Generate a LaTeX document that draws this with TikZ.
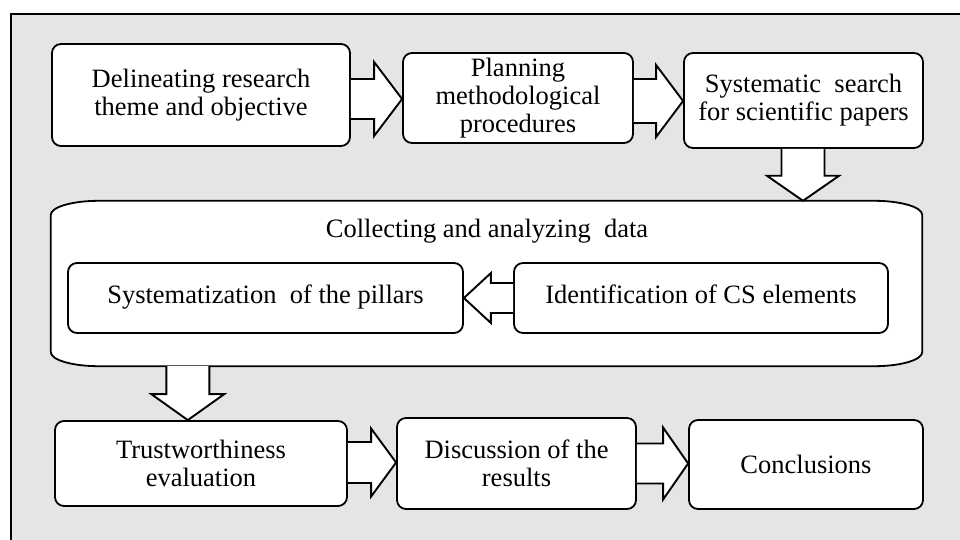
\documentclass[tikz,border=0pt]{standalone}
\usepackage{fontspec}
\setmainfont{Liberation Serif}
\usetikzlibrary{calc}
\tikzset{
  box/.style={draw=black, fill=white, line width=1.8pt, rounded corners=9pt, align=center, inner sep=0pt,
    font=\fontsize{26.5}{28}\selectfont},
  oneline/.style={text height=17pt, text depth=7pt},
  plain/.style={align=center, inner sep=0pt, font=\fontsize{26.5}{28}\selectfont},
  arrowline/.style={draw=black, fill=white, line width=1.9pt, line join=miter},
  bigline/.style={draw=black, fill=white, line width=1.8pt},
}
\newcommand\barrow[5]{%
  \path ($(#2)!#5!(#1)$) coordinate (bb);
  \draw[arrowline] ($(#1)!#3!90:(#2)$) -- ($(bb)!#3!-90:(#1)$) -- ($(bb)!#4!-90:(#1)$) -- (#2)
     -- ($(bb)!#4!90:(#1)$) -- ($(bb)!#3!90:(#1)$) -- ($(#1)!#3!-90:(#2)$);}
\begin{document}
\begin{tikzpicture}[x=1pt,y=-1pt]
\useasboundingbox (0,0) rectangle (960,540);
\fill[white] (0,0) rectangle (960,540);
\fill[gray!20] (11,14) rectangle (960,540);
\draw[line width=1.5pt] (11,540) -- (11,14) -- (960,14);

% top row
\node[box, minimum width=298pt, minimum height=102pt] (b1) at (201,95) {Delineating research\\theme and objective};
\node[box, minimum width=230pt, minimum height=90pt] (b2) at (518,98) {Planning\\methodological\\procedures};
\node[box, minimum width=239pt, minimum height=95pt] (b3) at (803.5,100.5) {Systematic\ \ search\\for scientific papers};

% big container
\node[minimum width=871pt, minimum height=165pt, inner sep=0pt] (big) at (486.5,283.5) {};
\draw[bigline] ([xshift=48pt]big.north west) -- ([xshift=-48pt]big.north east)
  arc[start angle=90, end angle=0, x radius=48pt, y radius=14pt]
  -- ([yshift=14pt]big.south east)
  arc[start angle=0, end angle=-90, x radius=48pt, y radius=14pt]
  -- ([xshift=48pt]big.south west)
  arc[start angle=-90, end angle=-180, x radius=48pt, y radius=14pt]
  -- ([yshift=-14pt]big.north west)
  arc[start angle=180, end angle=90, x radius=48pt, y radius=14pt] -- cycle;
\node[plain, anchor=base] (coll) at (487,237) {Collecting and analyzing\ \ data};

\node[box, oneline, minimum width=395pt, minimum height=70pt] (il) at (265.5,298) {Systematization\ \ of the pillars};
\node[box, oneline, minimum width=374pt, minimum height=70pt] (ir) at (701,298) {Identification of CS elements};

% bottom row
\node[box, minimum width=292pt, minimum height=85pt] (t1) at (201,463.5) {Trustworthiness\\evaluation};
\node[box, minimum width=239pt, minimum height=91pt] (t2) at (516.5,463.5) {Discussion of the\\results};
\node[box, text height=24pt, text depth=7pt, minimum width=234pt, minimum height=89pt] (t3) at (806,464.5) {Conclusions};

% block arrows
\path (b1.east) ++(0,4) coordinate (a1s);
\barrow{a1s}{a1s -| b2.west}{20pt}{37pt}{28pt}
\path (b2.east) ++(0,3) coordinate (a2s);
\barrow{a2s}{a2s -| b3.west}{22pt}{36pt}{27pt}
\path (b3.south) ++(-0.5,0) coordinate (a3s);
\barrow{a3s}{a3s |- big.north}{21.5pt}{36pt}{25pt}
\barrow{ir.west}{ir.west -| il.east}{15pt}{25pt}{27pt}
\path ([xshift=137pt]big.south west) coordinate (a4s);
\barrow{a4s}{a4s |- t1.north}{21.5pt}{36.5pt}{26pt}
\path (t1.east) ++(0,-1) coordinate (a5s);
\barrow{a5s}{a5s -| t2.west}{20.5pt}{34pt}{25pt}
\barrow{t2.east}{t2.east -| t3.west}{20pt}{36pt}{25pt}
\end{tikzpicture}
\end{document}
